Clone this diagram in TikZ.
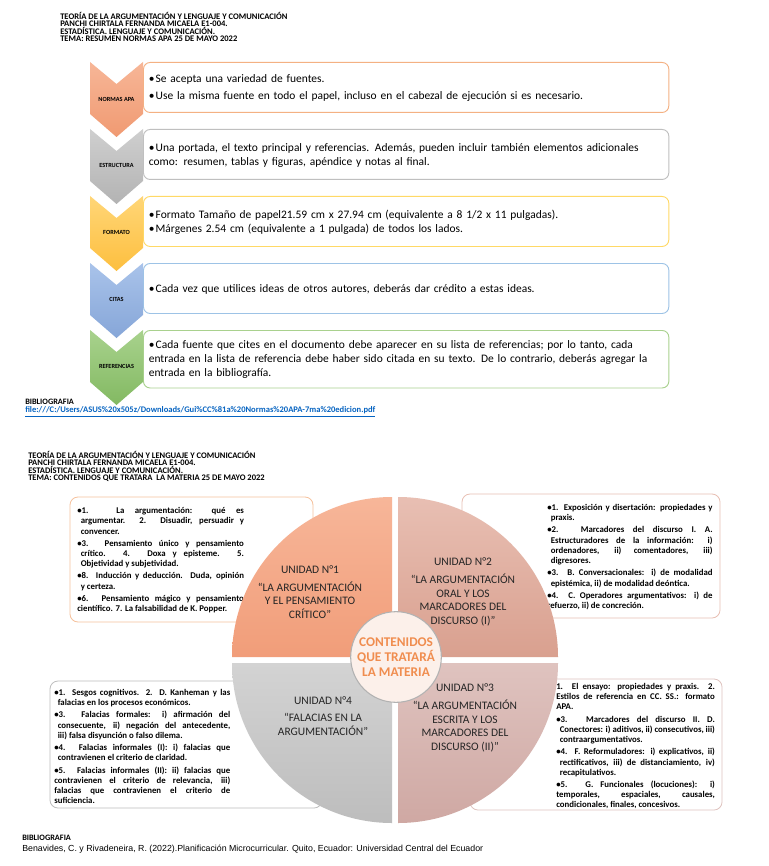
\documentclass[tikz,border=0pt]{standalone}
\usepackage{fontspec}
\setmainfont{Carlito}
\newfontfamily\arialfont{Liberation Sans}
\usetikzlibrary{positioning}

\definecolor{normasA}{HTML}{F7B697}
\definecolor{normasB}{HTML}{F09A72}
\definecolor{normasL}{HTML}{F4B183}
\definecolor{estrucA}{HTML}{CFCFCF}
\definecolor{estrucB}{HTML}{B3B3B3}
\definecolor{estrucL}{HTML}{BFBFBF}
\definecolor{formatoA}{HTML}{FFD677}
\definecolor{formatoB}{HTML}{FDBF3F}
\definecolor{formatoL}{HTML}{FFD966}
\definecolor{citasA}{HTML}{A9C3EA}
\definecolor{citasB}{HTML}{86A6D8}
\definecolor{citasL}{HTML}{9DC3E6}
\definecolor{refA}{HTML}{A8D28D}
\definecolor{refB}{HTML}{83B962}
\definecolor{refL}{HTML}{A9D18E}
\definecolor{enlace}{HTML}{0563C1}
\definecolor{uno}{HTML}{F7B699}
\definecolor{unoB}{HTML}{F19D79}
\definecolor{dos}{HTML}{E8BFB3}
\definecolor{dosB}{HTML}{D9A08F}
\definecolor{tres}{HTML}{DFC3BF}
\definecolor{tresB}{HTML}{CFA8A3}
\definecolor{cuatro}{HTML}{D3D3D3}
\definecolor{cuatroB}{HTML}{BDBDBD}
\definecolor{centrofondo}{HTML}{FCF0EA}
\definecolor{naranja}{HTML}{F08D4F}

% bullet paragraphs
\newcommand{\apaitem}[2][0pt]{\par\vspace{#1}\noindent\hangindent=0.6em\hangafter=1\makebox[0.6em][l]{\textbullet}#2}
\newcommand{\temitem}[2][1.4pt]{\par\vspace{#1}\noindent\hangindent=0.4em\hangafter=1\textbullet#2}
\newcommand{\finbox}{\par\vspace{3.5pt}}
\newcommand{\singuion}{\hyphenpenalty=10000\exhyphenpenalty=10000\tolerance=9999}
% chevron: top y, top colour, bottom colour
\newcommand{\chevron}[3]{%
  \shade[top color=#2, bottom color=#3] (90,#1) -- (116.5,#1+22) -- (143,#1)
    -- (143,#1+52) -- (116.5,#1+75) -- (90,#1+52) -- cycle;}

\begin{document}
\begin{tikzpicture}[x=0.75pt, y=-0.75pt,
    encabezado/.style={anchor=north west, align=left, inner sep=0pt,
        font=\fontsize{6.4}{5.25}\selectfont\bfseries},
    caja/.style={draw, rounded corners=5pt, fill=white, line width=0.7pt,
        anchor=north west, minimum height=37.5pt, text width=386pt,
        inner xsep=4pt, align=left, font=\fontsize{8.6}{10.5}\selectfont,
        execute at end node=\finbox},
    rotulo/.style={inner sep=0pt, font=\fontsize{4.7}{5}\selectfont\bfseries},
    tema/.style={draw, rounded corners=6pt, line width=0.6pt, fill=white},
    temtexto/.style={anchor=north west, inner sep=0pt, align=justify,
        font=\fontsize{6.6}{7.7}\selectfont\bfseries\singuion},
    unidad/.style={align=center, inner sep=0pt, text=black!85,
        font=\fontsize{8.6}{10.2}\selectfont},
]
\fill[white] (0,0) rectangle (768,866);
\useasboundingbox (0,0) rectangle (768,866);

% --- resumen normas APA ---
\node[encabezado] (cab1) at (60,12) {TEORÍA DE LA ARGUMENTACIÓN Y LENGUAJE Y COMUNICACIÓN\\
    PANCHI CHIRTALA FERNANDA MICAELA E1-004.\\
    ESTADÍSTICA. LENGUAJE Y COMUNICACIÓN.\\
    TEMA: RESUMEN NORMAS APA 25 DE MAYO 2022};

\node[caja, draw=normasL] (normas) at (143,62)
    {\apaitem{Se acepta una variedad de fuentes.}\apaitem[2pt]{Use la misma fuente en todo el papel, incluso en el cabezal de ejecución si es necesario.}};
\node[caja, draw=estrucL] (estructura) at (143,129)
    {\apaitem{Una portada, el texto principal y referencias. Además, pueden incluir también elementos adicionales\\ como: resumen, tablas y figuras, apéndice y notas al final.}};
\node[caja, draw=formatoL] (formato) at (143,196)
    {\apaitem{Formato Tamaño de papel21.59 cm x 27.94 cm (equivalente a 8 1/2 x 11 pulgadas).}\apaitem{Márgenes 2.54 cm (equivalente a 1 pulgada) de todos los lados.}};
\node[caja, draw=citasL] (citas) at (143,263)
    {\apaitem{Cada vez que utilices ideas de otros autores, deberás dar crédito a estas ideas.}};
\node[caja, draw=refL] (referencias) at (143,330)
    {\apaitem{Cada fuente que cites en el documento debe aparecer en su lista de referencias; por lo tanto, cada\\ entrada en la lista de referencia debe haber sido citada en su texto. De lo contrario, deberás agregar la\\ entrada en la bibliografía.}};

\chevron{62}{normasA}{normasB}
\chevron{129}{estrucA}{estrucB}
\chevron{196}{formatoA}{formatoB}
\chevron{263}{citasA}{citasB}
\chevron{330}{refA}{refB}

\node[rotulo] (rnormas) at (116.5,99) {NORMAS APA};
\node[rotulo] (restructura) at (116.5,165) {ESTRUCTURA};
\node[rotulo] (rformato) at (116.5,232) {FORMATO};
\node[rotulo] (rcitas) at (116.5,299) {CITAS};
\node[rotulo] (rreferencias) at (116.5,366) {REFERENCIAS};

\node[anchor=west, inner sep=0pt, font=\fontsize{6.2}{6}\selectfont\bfseries] (biblio1) at (25,402) {BIBLIOGRAFIA};
\node[anchor=west, inner sep=0pt, text=enlace, font=\fontsize{6.4}{6}\selectfont\bfseries] (ruta) at (25,412)
    {\underline{file:///C:/Users/ASUS\%20x505z/Downloads/Gui\%CC\%81a\%20Normas\%20APA-7ma\%20edicion.pdf}};

% --- contenidos de la materia ---
\node[encabezado] (cab2) at (28,451) {TEORÍA DE LA ARGUMENTACIÓN Y LENGUAJE Y COMUNICACIÓN\\
    PANCHI CHIRTALA FERNANDA MICAELA E1-004.\\
    ESTADÍSTICA. LENGUAJE Y COMUNICACIÓN.\\
    TEMA: CONTENIDOS QUE TRATARA\ \ LA MATERIA 25 DE MAYO 2022};

\draw[tema, draw=normasL!80] (70,497) rectangle (313,622);
\draw[tema, draw=dos] (462,494) rectangle (720,618);
\draw[tema, draw=cuatroB] (50,681) rectangle (322,808);
\draw[tema, draw=tres] (470,679) rectangle (722,810);

\node[temtexto, text width=125pt] (texto1) at (77,503)
    {\temitem[0pt]{1. La argumentación: qué es\linebreak argumentar. 2. Disuadir, persuadir y\linebreak convencer.}
     \temitem{3. Pensamiento único y pensamiento\linebreak crítico. 4. Doxa y episteme. 5.\linebreak Objetividad y subjetividad.}
     \temitem{8. Inducción y deducción. Duda, opinión\linebreak y certeza.}
     \temitem{6. Pensamiento mágico y pensamiento\linebreak científico. 7. La falsabilidad de K. Popper.}};
\node[temtexto, text width=124pt] (texto2) at (547,500)
    {\temitem[0pt]{1. Exposición y disertación: propiedades y\linebreak praxis.}
     \temitem{2. Marcadores del discurso I. A.\linebreak Estructuradores de la información: i)\linebreak ordenadores, ii) comentadores, iii)\linebreak digresores.}
     \temitem{3. B. Conversacionales: i) de modalidad\linebreak epistémica, ii) de modalidad deóntica.}
     \temitem{4. C. Operadores argumentativos: i) de\linebreak refuerzo, ii) de concreción.}};
\node[temtexto, text width=132pt] (texto4) at (54,685)
    {\temitem[0pt]{1. Sesgos cognitivos. 2. D. Kanheman y las\linebreak falacias en los procesos económicos.}
     \temitem{3. Falacias formales: i) afirmación del\linebreak consecuente, ii) negación del antecedente,\linebreak iii) falsa disyunción o falso dilema.}
     \temitem{4. Falacias informales (I): i) falacias que\linebreak contravienen el criterio de claridad.}
     \temitem{5. Falacias informales (II): ii) falacias que\linebreak contravienen el criterio de relevancia, iii)\linebreak falacias que contravienen el criterio de\linebreak suficiencia.}};
\node[temtexto, text width=119pt] (texto3) at (556,683)
    {\noindent 1. El ensayo: propiedades y praxis. 2.\linebreak Estilos de referencia en CC. SS.: formato\linebreak APA.
     \temitem{3. Marcadores del discurso II. D.\linebreak Conectores: i) aditivos, ii) consecutivos, iii)\linebreak contraargumentativos.}
     \temitem{4. F. Reformuladores: i) explicativos, ii)\linebreak rectificativos, iii) de distanciamiento, iv)\linebreak recapitulativos.}
     \temitem{5. G. Funcionales (locuciones): i)\linebreak temporales, espaciales, causales,\linebreak condicionales, finales, concesivos.}};

% pie quadrants
\shade[top color=uno, bottom color=unoB] (392,657) -- ++(-160,0) arc[start angle=180, end angle=270, radius=160] -- cycle;
\shade[top color=dos, bottom color=dosB] (398,657) -- ++(0,-160) arc[start angle=270, end angle=360, radius=160] -- cycle;
\shade[top color=tres, bottom color=tresB] (398,663) -- ++(160,0) arc[start angle=0, end angle=90, radius=160] -- cycle;
\shade[top color=cuatro, bottom color=cuatroB] (392,663) -- ++(0,160) arc[start angle=90, end angle=180, radius=160] -- cycle;

\node[unidad] (unidad1) at (310,592) {UNIDAD N°1\\[3pt]“LA ARGUMENTACIÓN\\Y EL PENSAMIENTO\\CRÍTICO”};
\node[unidad] (unidad2) at (463,592) {UNIDAD N°2\\[3pt]“LA ARGUMENTACIÓN\\ORAL Y LOS\\MARCADORES DEL\\DISCURSO (I)”};
\node[unidad] (unidad3) at (465,718) {UNIDAD N°3\\[3pt]“LA ARGUMENTACIÓN\\ESCRITA Y LOS\\MARCADORES DEL\\DISCURSO (II)”};
\node[unidad] (unidad4) at (323,716) {UNIDAD N°4\\[3pt]“FALACIAS EN LA\\ARGUMENTACIÓN”};

\node[circle, draw=black!30, line width=0.8pt, fill=centrofondo, minimum size=68pt, inner sep=0pt,
    align=center, text=naranja, font=\fontsize{10}{11}\selectfont\bfseries] (centro) at (396,657)
    {CONTENIDOS\\QUE TRATARÁ\\LA MATERIA};

\node[anchor=west, inner sep=0pt, font=\fontsize{6.2}{6}\selectfont\bfseries] (biblio2) at (22,838) {BIBLIOGRAFIA};
\node[anchor=west, inner sep=0pt, font=\arialfont\fontsize{6.6}{7}\selectfont] (benavides) at (22,849)
    {Benavides, C. y Rivadeneira, R. (2022).Planificación Microcurricular. Quito, Ecuador: Universidad Central del Ecuador};
\end{tikzpicture}
\end{document}
